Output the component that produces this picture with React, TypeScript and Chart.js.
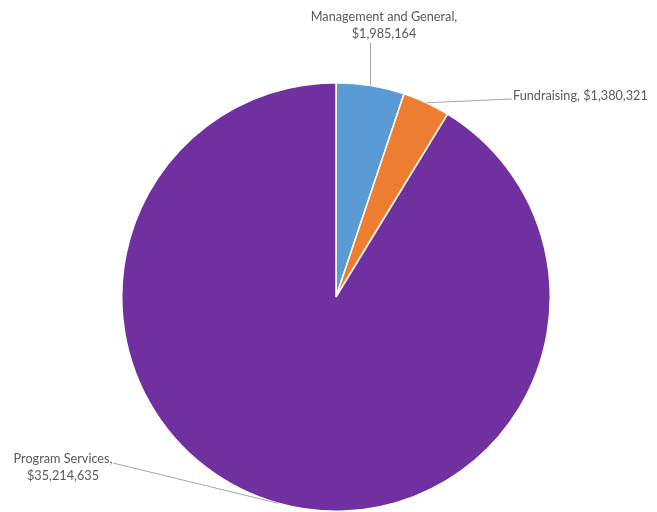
import React, { useEffect, useRef } from "react";
import { Chart, registerables } from "chart.js";

Chart.register(...registerables);

const categories = ["Management and General", "Fundraising", "Program Services"];
const values = [1985164, 1380321, 35214635];
const colors = ["#5B9BD5", "#ED7D31", "#7030A0"];

const fmt = (v: number) => "$" + v.toLocaleString("en-US");

// label layout: text lines, anchor point, text align, line end
const labelLayout = [
  { lines: [categories[0] + ",", fmt(values[0])], x: 384, y: 17, align: "center", endX: null as number | null, endY: 43 },
  { lines: [categories[1] + ", " + fmt(values[1])], x: 513, y: 96, align: "left", endX: 512, endY: 99 },
  { lines: [categories[2] + ",", fmt(values[2])], x: 63, y: 459, align: "center", endX: 113, endY: 463 },
];

const leaderPlugin = {
  id: "leaderLabels",
  afterDatasetsDraw(chart: any) {
    const ctx = chart.ctx;
    const meta = chart.getDatasetMeta(0);
    ctx.save();
    meta.data.forEach((arc: any, i: number) => {
      const L = labelLayout[i];
      const mid = (arc.startAngle + arc.endAngle) / 2;
      const sx = arc.x + Math.cos(mid) * arc.outerRadius;
      const sy = arc.y + Math.sin(mid) * arc.outerRadius;
      const ex = L.endX === null ? sx : L.endX;
      ctx.strokeStyle = "#A6A6A6";
      ctx.lineWidth = 1;
      ctx.beginPath();
      ctx.moveTo(sx, sy);
      ctx.lineTo(ex, L.endY);
      ctx.stroke();
      ctx.fillStyle = "#595959";
      ctx.font = "12.7px Lato, 'Open Sans', sans-serif";
      ctx.textBaseline = "middle";
      L.lines.forEach((t: string, j: number) => {
        ctx.textAlign = L.align;
        ctx.fillText(t, L.x, L.y + j * 17);
      });
    });
    ctx.restore();
  },
};

export default function App() {
  const ref = useRef<HTMLCanvasElement>(null);
  useEffect(() => {
    document.body.style.margin = "0";
    const chart = new Chart(ref.current!, {
      type: "pie",
      data: {
        labels: categories,
        datasets: [
          {
            data: values,
            backgroundColor: colors,
            borderColor: "#FFFFFF",
            borderWidth: 1.5,
          },
        ],
      },
      options: {
        animation: false,
        responsive: false,
        maintainAspectRatio: false,
        layout: { padding: { top: 82, bottom: -2, left: 120, right: 105 } },
        plugins: {
          legend: { display: false },
          tooltip: { enabled: false },
        },
      },
      plugins: [leaderPlugin],
    });
    return () => chart.destroy();
  }, []);
  return (
    <div style={{ width: 657, height: 512, background: "#fff" }}>
      <canvas ref={ref} width={657} height={512} style={{ display: "block", width: 657, height: 512 }} />
    </div>
  );
}
